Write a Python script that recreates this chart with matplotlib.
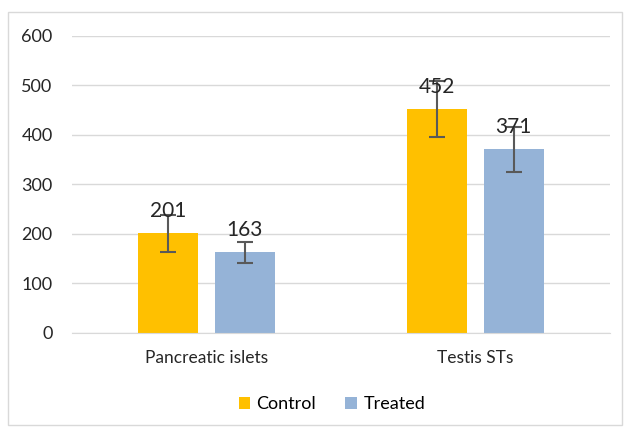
import numpy as np
import matplotlib.pyplot as plt
from matplotlib.patches import Rectangle

categories = ['Pancreatic islets', 'Testis STs']
control = [201, 452]
treated = [163, 371]
control_err = [37, 57]
treated_err = [21, 45]

plt.rcParams['font.family'] = ['Lato', 'DejaVu Sans']

fig = plt.figure(figsize=(6.26, 4.30), dpi=100)
ax = fig.add_axes([0.115, 0.2256, 0.859, 0.6907])

# light frame round the whole chart
fig.patches.append(Rectangle((0.013, 0.012), 0.98, 0.96, transform=fig.transFigure,
                             fill=False, edgecolor='#d9d9d9', linewidth=1))

x = np.arange(len(categories))
w = 0.223
off = 0.143
b1 = ax.bar(x - off, control, w, color='#FFC000', label='Control', zorder=2)
b2 = ax.bar(x + off, treated, w, color='#95B3D7', label='Treated', zorder=2)
ax.errorbar(x - off, control, yerr=control_err, fmt='none', ecolor='#595959',
            elinewidth=1.5, capsize=6, capthick=1.5, zorder=3)
ax.errorbar(x + off, treated, yerr=treated_err, fmt='none', ecolor='#595959',
            elinewidth=1.5, capsize=6, capthick=1.5, zorder=3)

for bars, vals in ((b1, control), (b2, treated)):
    for rect, v in zip(bars, vals):
        ax.annotate(str(v), (rect.get_x() + rect.get_width() / 2, v),
                    xytext=(0, 9), textcoords='offset points',
                    ha='center', va='bottom', fontsize=15, color='#262626', zorder=4)

ax.set_xlim(-0.5, 1.5)
ax.set_ylim(0, 600)
ax.set_yticks(range(0, 601, 100))
ax.set_xticks(x)
ax.set_xticklabels(categories, fontsize=12.5, color='#262626')
ax.tick_params(axis='y', labelsize=13, labelcolor='#262626', length=0, pad=14)
ax.tick_params(axis='x', length=0, pad=12)
ax.grid(axis='y', color='#d9d9d9', linewidth=1, zorder=0)
ax.set_axisbelow(True)
for s in ['top', 'right', 'left']:
    ax.spines[s].set_visible(False)
ax.spines['bottom'].set_color('#d9d9d9')

fig.legend(handles=[b1, b2], loc='center', bbox_to_anchor=(0.53, 0.06), ncol=2,
           frameon=False, fontsize=13, handlelength=0.65, handleheight=0.65,
           handletextpad=0.35, columnspacing=1.6)

fig.savefig('out.png', dpi=100)
